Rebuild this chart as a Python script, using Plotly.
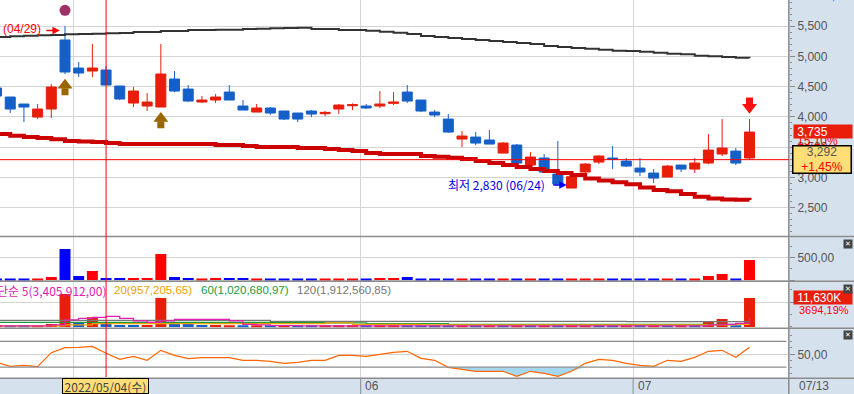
import plotly.graph_objects as go

W, H = 854, 394
PX_RIGHT = 789
days = list(range(-5, 51))
month_lines = [0.6, 21.6, 41.5]

body_top = [4478,4329,4213,4130,4494, 5273,4809,4809,4776,4511, 4428,4246,4710,4627,4461,
            4279,4329,4411,4180,4147, 4147,4097,4064,4097,4075, 4196,4202,4180,4213,4246,
            4411,4279,4080,3964,3683, 3666,3617,3567,3534,3335, 3319,3054,3009,3219,3352,
            3319,3269,3153,3070,3186, 3203,3236,3451,3484,3434, 3749]
body_bot = [4345,4130,4163,3997,4130, 4743,4726,4759,4527,4296, 4229,4180,4163,4428,4262,
            4246,4279,4279,4113,4080, 4064,3964,3964,4047,4053, 4130,4185,4147,4180,4224,
            4262,4097,4031,3749,3633, 3567,3550,3401,3236,3203, 3087,2888,2822,3087,3252,
            3296,3186,3087,2987,3004, 3136,3136,3236,3385,3236, 3319]
high = [4478,4329,4213,4213,4544, 5504,4908,5206,4842,4511, 4494,4395,5206,4759,4527,
        4345,4378,4527,4279,4213, 4163,4097,4064,4113,4097, 4213,4224,4213,4428,4411,
        4527,4279,4113,4047,3766, 3749,3782,3584,3550,3418, 3385,3600,3054,3236,3368,
        3517,3319,3319,3136,3203, 3203,3319,3716,3964,3484, 3964]
low = [4345,4064,3915,3964,3981, 4710,4660,4660,4527,4279, 4163,4097,4163,4411,4246,
       4229,4229,4279,4113,4080, 4031,3948,3915,3997,4014, 4047,4113,4130,4147,4196,
       4229,4080,3997,3733,3501, 3534,3550,3401,3186,3203, 3087,2888,2822,3054,3219,
       3136,3170,3020,2905,3004, 3087,3070,3219,3352,3203, 3285]
up = [0,0,0,1,1, 0,0,1,0,0, 1,1,1,0,0, 1,1,0,0,1, 0,0,0,0,1, 1,1,0,1,1,
      0,0,0,0,1, 0,0,1,0,1, 0,0,1,1,1, 0,0,0,0,1, 0,1,1,1,0, 1]

ma_long = [5322,5333,5344,5350,5355, 5366,5372,5377,5383,5389, 5405,5405,5422,5422,5438,
           5438,5444,5444,5455,5460, 5466,5471,5477,5455,5455, 5438,5438,5427,5411,5394,
           5372,5339,5322,5306,5289, 5273,5256,5240,5223,5206, 5173,5157,5140,5129,5113,
           5096,5090,5079,5063,5046, 5035,5013,5002,4991,4980, 4975]
ma_red = [3716,3688,3666,3650,3628, 3600,3594,3583,3567,3550, 3550,3550,3550,3550,3550,
          3550,3534,3534,3517,3501, 3501,3501,3484,3484,3468, 3451,3434,3401,3385,3385,
          3385,3352,3341,3324,3302, 3269,3236,3203,3170,3136, 3103,3070,3037,2982,2949,
          2916,2883,2833,2789,2767, 2722,2678,2651,2634,2629, 2623]

volume = [22,22,22,22,67, 695,90,202,45,45, 45,45,583,67,45, 22,45,45,45,22,
          22,22,22,22,22, 22,22,22,45,45, 67,22,22,22,22, 22,22,22,22,22,
          22,22,22,22,22, 22,22,22,22,22, 22,22,90,134,22, 448]
vol_k = [802,401,401,535,1200, 13236,1872,3877,1337,802, 802,802,11630,1200,1200,
         802,802,668,535,535, 535,535,401,401,401, 401,401,401,401,401,
         401,401,401,401,401, 401,401,401,401,401, 401,401,401,401,401,
         401,401,401,401,401, 401,401,2005,3209,535, 11630]
vol_up = [1,0,0,1,1, 1,0,1,0,0, 0,1,1,0,0, 0,1,1,0,1, 0,1,0,0,1, 1,1,0,1,1,
          0,0,0,0,1, 0,1,0,1,0, 1,0,1,1,0, 0,1,0,1,0, 1,0,1,1,0, 1]
ma5 = [401,401,401,401,802, 2808,3476,3877,4278,3476, 2407,1872,2407,3075,3075,
       3075,3075,2407,1070,802, 535,535,401,401,401, 401,401,401,401,401,
       401,401,401,401,401, 401,401,401,401,401, 401,401,401,401,401,
       401,401,401,401,401, 401,401,802,1070,1470, 3476]
ma20 = [401,401,401,401,401, 802,802,1337,1337,1337, 1337,1337,1337,1337,1337,
        1337,1337,1337,1337,1337, 1337,1337,1337,1337,1604, 1604,1070,1070,1070,1070,
        1070,802,802,802,802, 802,802,802,802,802, 802,802,802,802,802,
        802,802,802,802,802, 802,802,802,802,1070, 1070]
ma60 = [1872,1872,1872,1872,1872, 1872,1872,1872,1872,1872, 1872,1872,1872,1872,1872,
        1872,1872,1872,1872,1872, 1872,1872,1872,1872,1604, 1604,1604,1337,1337,1337,
        1337,1337,1337,1070,1070, 1070,1070,1070,1070,1070, 1070,1070,1070,1070,1070,
        1070,1070,1070,1070,1070, 1070,1070,1070,1070,1070, 1070]
ma120 = [2674,2674,2674,2674,2674, 2674,2674,2674,2674,2674, 2674,2674,2674,2674,2674,
         2674,2674,2674,2674,2674, 2273,2273,2273,2273,2273, 2273,2273,2273,2273,2273,
         2273,2273,2273,2273,2273, 2273,2273,2273,2273,2273, 2273,2273,2273,2273,2273,
         2273,2139,2139,2139,2139, 2139,2139,2139,2139,2139, 2139]
osc = [37.6,31.3,32.9,30.8,52.6, 60.4,60.9,62.4,51.6,42.2, 46.9,40.7,56.2,48.4,43.3,
       44.8,44.8,44.8,40.7,40.7, 39.1,36.0,37.6,40.7,40.7, 48.4,48.4,46.9,50.0,53.1,
       54.7,43.8,40.7,29.8,26.7, 23.6,23.6,23.6,15.8,23.6, 20.5,15.8,23.6,36.0,42.2,
       40.7,36.0,32.9,31.3,40.7, 39.1,45.3,54.7,56.2,45.3, 60.9]
for arr in (body_top, body_bot, high, low, up, ma_long, ma_red, volume, vol_k, vol_up, ma5, ma20, ma60, ma120, osc):
    assert len(arr) == len(days), len(arr)

opens = [b if u else t for t, b, u in zip(body_top, body_bot, up)]
closes = [t if u else b for t, b, u in zip(body_top, body_bot, up)]
osc_low = [min(v, 30) for v in osc]

RED, BLUE = "#e81e0a", "#1560c8"
VRED, VBLUE = "#ff0000", "#0000ff"
GRID, EDGE = "#d4d4d4", "#8c8c8c"
LABEL = "#555555"
GOLD = "#f0a000"
FONT = "Liberation Sans, Noto Sans CJK KR, sans-serif"
KFONT = "Noto Sans CJK KR, Liberation Sans, sans-serif"


def px(x):
    return x / W


def py(y):
    return 1 - y / H


fig = go.Figure()
fig.add_trace(go.Scatter(x=days, y=ma_long, mode="lines", line=dict(color="#333333", width=2, shape="hv"), hoverinfo="skip"))
fig.add_trace(go.Scatter(x=days, y=ma_red, mode="lines", line=dict(color="#cc0000", width=4, shape="hv"), hoverinfo="skip"))
fig.add_trace(go.Candlestick(x=days, open=opens, high=high, low=low, close=closes,
                             increasing=dict(line=dict(color=RED, width=1), fillcolor=RED),
                             decreasing=dict(line=dict(color=BLUE, width=1), fillcolor=BLUE)))

fig.add_trace(go.Scatter(x=[0], y=[5764], mode="markers", marker=dict(color="#9e3068", size=11), hoverinfo="skip"))
fig.add_trace(go.Scatter(x=[0, 7], y=[4417, 3871], mode="markers", marker=dict(color="#996600", size=7, symbol="square"), hoverinfo="skip"))
fig.add_trace(go.Scatter(x=[0, 7], y=[4522, 3975], mode="markers", marker=dict(color="#996600", size=13, symbol="triangle-up"), hoverinfo="skip"))
fig.add_trace(go.Scatter(x=[50], y=[4262], mode="markers", marker=dict(color="#ff1010", size=7, symbol="square"), hoverinfo="skip"))
fig.add_trace(go.Scatter(x=[50], y=[4158], mode="markers", marker=dict(color="#ff1010", size=13, symbol="triangle-down"), hoverinfo="skip"))

fig.add_trace(go.Bar(x=days, y=volume, width=0.8, yaxis="y2",
                     marker=dict(color=[VRED if u else VBLUE for u in up], line=dict(width=0))))
fig.add_trace(go.Bar(x=days, y=vol_k, width=0.8, yaxis="y3",
                     marker=dict(color=[RED if u else BLUE for u in vol_up], line=dict(width=0))))
for vals, col in ((ma120, "#777777"), (ma60, "#1e9a3c"), (ma20, GOLD), (ma5, "#e020b0")):
    fig.add_trace(go.Scatter(x=days, y=vals, yaxis="y3", mode="lines",
                             line=dict(color=col, width=1.3, shape="hv"), hoverinfo="skip"))

fig.add_trace(go.Scatter(x=days, y=[30] * len(days), yaxis="y4", mode="lines", line=dict(width=0), hoverinfo="skip"))
fig.add_trace(go.Scatter(x=days, y=osc_low, yaxis="y4", mode="lines", line=dict(width=0),
                         fill="tonexty", fillcolor="#a5d8f0", hoverinfo="skip"))
fig.add_trace(go.Scatter(x=days, y=osc, yaxis="y4", mode="lines", line=dict(color="#ff6600", width=1.2), hoverinfo="skip"))

shapes = []
for y in (236.5, 281.3, 328.3, 378.3):
    shapes.append(dict(type="line", xref="paper", yref="paper", x0=0, x1=1 if y == 378.3 else px(PX_RIGHT + 65),
                       y0=py(y), y1=py(y), line=dict(color=EDGE, width=1.5)))
for lvl in (70, 30):
    shapes.append(dict(type="line", xref="x", yref="y4", x0=days[0] - 1, x1=52.7, y0=lvl, y1=lvl, line=dict(color=EDGE, width=1.2)))
shapes.append(dict(type="line", xref="paper", yref="paper", x0=px(788.8), x1=px(788.8), y0=0, y1=1, line=dict(color=EDGE, width=1.5)))
for m in month_lines[1:]:
    shapes.append(dict(type="line", xref="x", yref="paper", x0=m, x1=m, y0=0, y1=py(378.3), line=dict(color=EDGE, width=1)))
# crosshair
shapes.append(dict(type="line", xref="x", yref="paper", x0=3, x1=3, y0=py(377), y1=1, line=dict(color="#ff0000", width=1)))
shapes.append(dict(type="line", xref="paper", yref="y", x0=0, x1=px(PX_RIGHT), y0=3292, y1=3292, line=dict(color="#ff0000", width=1)))


def txt(x, y, s, color, size=12, font=FONT, anchor="left", **kw):
    return dict(xref="paper", yref="paper", x=px(x), y=py(y), text=s, showarrow=False,
                xanchor=anchor, yanchor="middle", font=dict(color=color, size=size, family=font), **kw)


ann = [
    txt(1, 29.5, "(04/29)", "#ff0000", 12),
    dict(xref="x", yref="y", x=-0.37, y=5430, text="", showarrow=True, ax=-15, ay=0,
         arrowhead=2, arrowsize=1, arrowwidth=1.5, arrowcolor="#ff0000"),
    txt(446, 184.6, "최저 2,830 (06/24)", "#0000e0", 12, KFONT),
    dict(xref="x", yref="y", x=36.65, y=2872, text="", showarrow=True, ax=-15, ay=0,
         arrowhead=2, arrowsize=1, arrowwidth=1.5, arrowcolor="#0000ff"),
    dict(xref="paper", yref="paper", x=px(789), y=py(5), text="HC: 32,21", showarrow=False, xanchor="left", yanchor="bottom",
         font=dict(color="#2a6fc8", size=13, family=FONT)),
    txt(-5, 290, "단순 5(3,405,912,00)", "#e020b0", 12, KFONT),
    txt(112, 290, "20(957,205,65)", GOLD, 11.5),
    txt(198.5, 290, "60(1,020,680,97)", "#1e9a3c", 11.5),
    txt(295, 290, "120(1,912,560,85)", "#777777", 11.5),
    txt(795, 141, "15,10%", "#ff0000", 12),
    txt(793, 131, "&nbsp;3,735", "#ffffff", 12, bgcolor=RED, width=58, height=13, align="left", borderpad=0),
    dict(xref="paper", yref="paper", x=px(822), y=py(159.3), xanchor="center", yanchor="middle", showarrow=False,
         text="3,292<br><span style='color:#ff0000'>+1,45%</span>", font=dict(color="#555555", size=12, family=FONT),
         bgcolor="#ffdd77", bordercolor="#000000", borderwidth=1.5, borderpad=0, width=57, height=26, align="center"),
    txt(793, 297.5, "&nbsp;11,630K", "#ffffff", 12, bgcolor=RED, width=58, height=13, align="left", borderpad=0),
    txt(797, 309.5, "3694,19%", "#ff0000", 11),
    txt(363, 386, "06", LABEL, 12),
    txt(635.5, 386, "07", LABEL, 12),
    txt(797, 386, "07/13", LABEL, 12),
    dict(xref="paper", yref="paper", x=px(105.5), y=py(386), xanchor="center", yanchor="middle", showarrow=False,
         text="2022/05/04(수)", font=dict(color="#444444", size=12, family=KFONT),
         bgcolor="#ffdd77", bordercolor="#000000", borderwidth=1, borderpad=0, width=85, height=14, align="center"),
]
for y in (243.5, 288.5, 335):
    ann.append(txt(848, y, "✕", "#ffffff", 7, "DejaVu Sans", anchor="center", bgcolor="#444444", width=8, height=8, borderpad=0))

tickfont = dict(color=LABEL, size=12, family=FONT)
axis_common = dict(anchor="x", side="right", ticks="outside", ticklen=5, tickcolor=EDGE, tickwidth=1,
                   showline=False, zeroline=False, showgrid=True, gridcolor=GRID, gridwidth=1, tickfont=tickfont)

fig.update_layout(
    width=W, height=H, autosize=False, showlegend=False,
    margin=dict(l=0, r=0, t=0, b=0, pad=0),
    paper_bgcolor="#d6e1ee", plot_bgcolor="#ffffff",
    boxgap=0.27, boxgroupgap=0, barmode="overlay",
    xaxis=dict(domain=[0, px(PX_RIGHT)], range=[-65 / 13.69, (PX_RIGHT - 65) / 13.69], anchor="y4",
               rangeslider=dict(visible=False), showticklabels=False, ticks="",
               tickmode="array", tickvals=month_lines, showgrid=True, gridcolor=GRID, gridwidth=1, zeroline=False, showline=False),
    yaxis=dict(domain=[py(236.5), 1], range=[2020, 5935], tickmode="array",
               tickvals=[2500, 3000, 3500, 4000, 4500, 5000, 5500],
               ticktext=["2,500", "3,000", "3,500", "4,000", "4,500", "5,000", "5,500"],
               minor=dict(dtick=100, ticklen=2, ticks="outside", tickcolor=EDGE, showgrid=False), **axis_common),
    yaxis2=dict(domain=[py(281.3), py(236.5)], range=[-29, 975], tickmode="array", tickvals=[0, 500], ticktext=["", "500,00"],
                minor=dict(dtick=250, ticklen=2, ticks="outside", tickcolor=EDGE, showgrid=False), **axis_common),
    yaxis3=dict(domain=[py(328.3), py(281.3)], range=[-535, 18317], tickmode="array", tickvals=[9800], ticktext=[""],
                minor=dict(dtick=5000, ticklen=2, ticks="outside", tickcolor=EDGE, showgrid=False), **axis_common),
    yaxis4=dict(domain=[py(378.3), py(328.3)], range=[12.7, 90.5], tickmode="array", tickvals=[50], ticktext=["50,00"],
                minor=dict(dtick=10, ticklen=2, ticks="outside", tickcolor=EDGE, showgrid=False), **axis_common),
    shapes=[s for s in shapes if not (s.get("xref") == "x" and s.get("yref") == "paper" and s["line"]["color"] == EDGE)]
    + [dict(type="line", xref="x", yref="paper", x0=m, x1=m, y0=0, y1=py(378.3), line=dict(color=EDGE, width=1)) for m in month_lines[1:]],
    annotations=ann,
)
fig.write_html("out.html", config=dict(displayModeBar=False),
               post_script="document.documentElement.style.overflow='hidden';document.body.style.margin='0';document.body.style.overflow='hidden';")
